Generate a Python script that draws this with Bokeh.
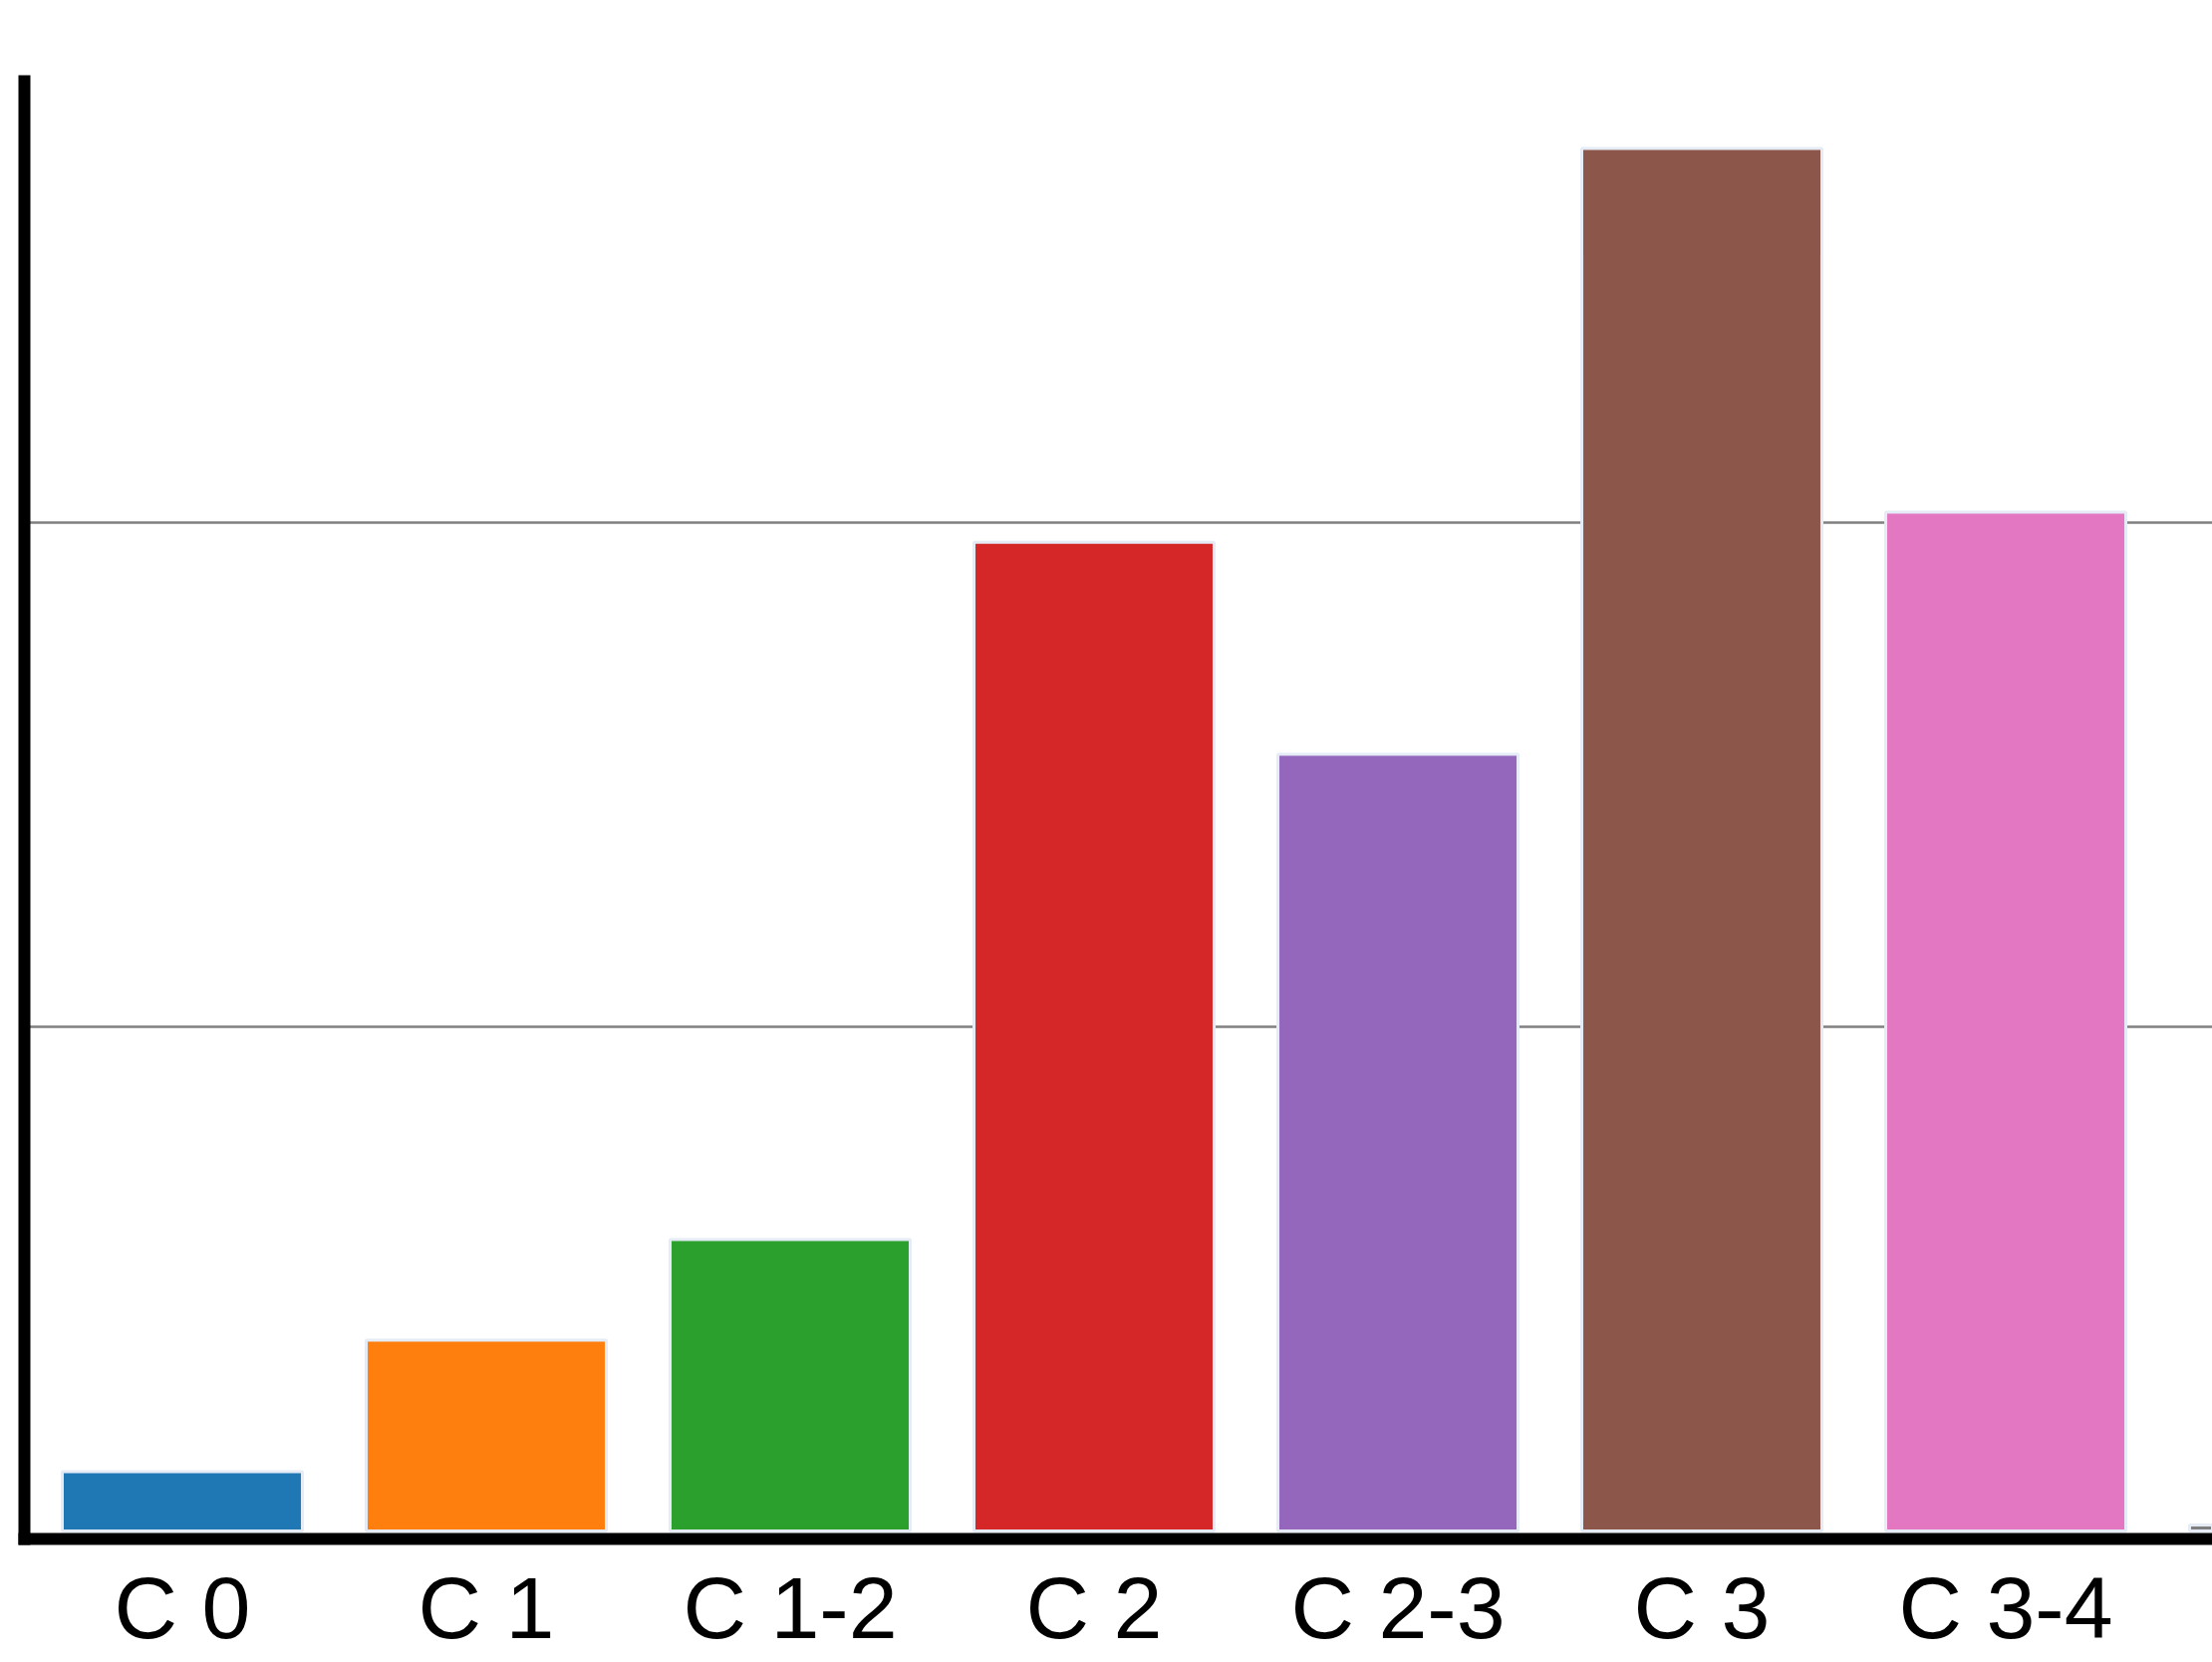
from bokeh.plotting import figure
from bokeh.models import Range1d, FixedTicker, ColumnDataSource
from bokeh.palettes import Category10_10
from bokeh.embed import file_html
from bokeh.resources import INLINE

categories = ["C 0", "C 1", "C 1-2", "C 2", "C 2-3", "C 3", "C 3-4", "C 4"]
values = [2.35, 7.57, 11.56, 39.21, 30.80, 54.82, 40.40, 0.24]
grid_values = [20, 40]

positions = list(range(len(categories)))
src = ColumnDataSource(dict(
    x=positions, top=values, cat=categories,
    color=list(Category10_10[:len(categories)]),
))

p = figure(width=2220, height=1668, output_backend="svg", toolbar_location=None,
           x_range=Range1d(-0.5197, 6.6803), y_range=Range1d(-0.316, 57.49),
           min_border_left=24, min_border_right=0, min_border_top=81,
           min_border_bottom=124)
p.outline_line_color = None
p.background_fill_color = "white"
p.border_fill_color = "white"

p.vbar(x="x", top="top", bottom=0, width=0.79, fill_color="color",
       line_color="#E5ECF6", line_width=3, source=src)

p.xgrid.visible = False
p.ygrid.ticker = FixedTicker(ticks=grid_values)
p.ygrid.grid_line_color = "#808080"
p.ygrid.grid_line_width = 2.5

p.yaxis.ticker = FixedTicker(ticks=[])
p.yaxis.axis_line_width = 12
p.yaxis.axis_line_color = "black"
p.yaxis.axis_line_cap = "square"
p.yaxis.major_tick_line_color = None
p.yaxis.minor_tick_line_color = None
p.yaxis.major_tick_out = 0
p.yaxis.major_tick_in = 0
p.yaxis.minor_tick_out = 0
p.yaxis.minor_tick_in = 0
p.yaxis.major_label_standoff = 0

p.xaxis.ticker = FixedTicker(ticks=positions)
p.xaxis.major_label_overrides = {i: c for i, c in enumerate(categories)}
p.xaxis.axis_line_width = 12
p.xaxis.axis_line_color = "black"
p.xaxis.axis_line_cap = "square"
p.xaxis.major_tick_line_color = None
p.xaxis.minor_tick_line_color = None
p.xaxis.major_tick_out = 0
p.xaxis.major_tick_in = 0
p.xaxis.minor_tick_out = 0
p.xaxis.minor_tick_in = 0
p.xaxis.major_label_text_font = "Liberation Sans"
p.xaxis.major_label_text_font_size = "88px"
p.xaxis.major_label_text_color = "black"
p.xaxis.major_label_standoff = 19

open("out.html", "w").write(file_html(p, INLINE))
